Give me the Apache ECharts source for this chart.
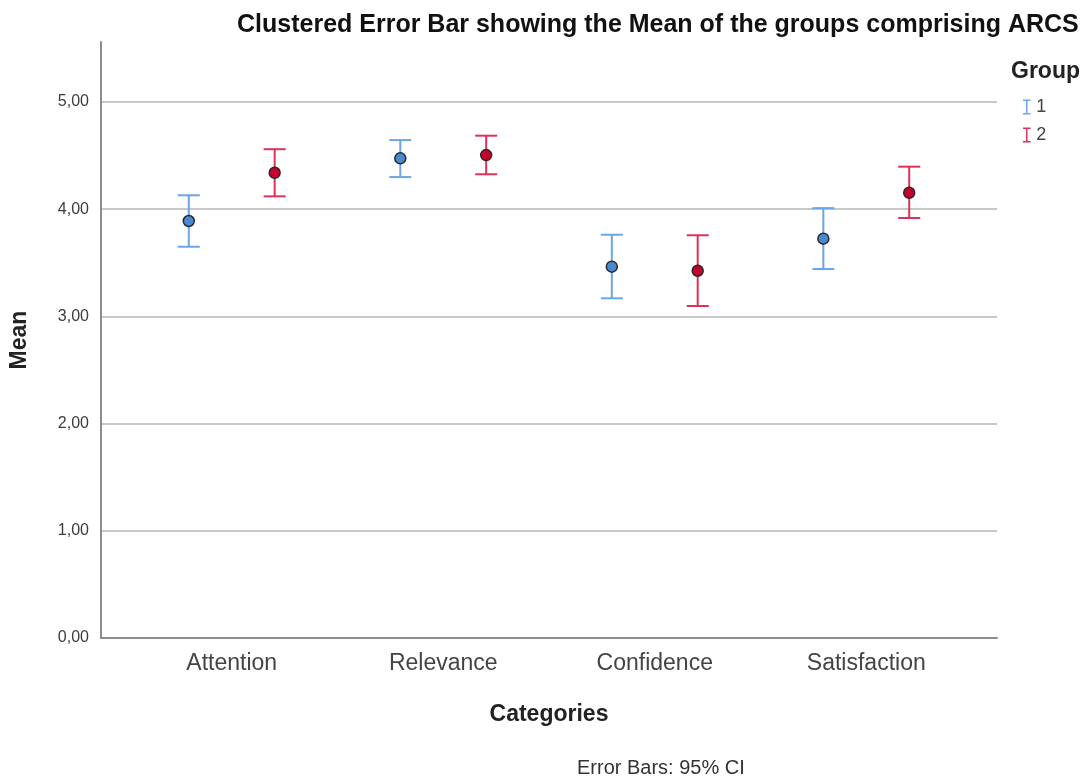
<!DOCTYPE html>
<html>
<head>
<meta charset="utf-8">
<script src="https://cdn.jsdelivr.net/npm/echarts@6/dist/echarts.min.js"></script>
<style>html,body{margin:0;padding:0;background:#fff}#chart{width:1092px;height:779px}</style>
</head>
<body>
<div id="chart"></div>
<script>
const categories = ['Attention', 'Relevance', 'Confidence', 'Satisfaction'];
const groupNames = ['1', '2'];
const group1Mean  = [3.89, 4.475, 3.464, 3.725];
const group1Lower = [3.65, 4.30, 3.169, 3.442];
const group1Upper = [4.13, 4.645, 3.762, 4.01];
const group2Mean  = [4.34, 4.505, 3.426, 4.154];
const group2Lower = [4.12, 4.326, 3.097, 3.918];
const group2Upper = [4.56, 4.686, 3.757, 4.397];
const yTicks = [0, 1, 2, 3, 4, 5];

const FONT = 'Liberation Sans, Arial, sans-serif';
const chart = echarts.init(document.getElementById('chart'));

function buildData(mean, lower, upper) {
  return categories.map((c, i) => [i, lower[i], upper[i], mean[i]]);
}

function makeSeries(name, mean, lower, upper, offset, barColor, dotColor) {
  return {
    type: 'custom',
    name: name,
    z: 5,
    data: buildData(mean, lower, upper),
    encode: { x: 0, y: [1, 2, 3] },
    itemStyle: { color: barColor },
    renderItem: function (params, api) {
      const x = api.value(0) + offset;
      const lo = api.coord([x, api.value(1)]);
      const hi = api.coord([x, api.value(2)]);
      const m = api.coord([x, api.value(3)]);
      const cw = 11;
      const ls = { stroke: barColor, lineWidth: 2 };
      return {
        type: 'group',
        children: [
          { type: 'line', shape: { x1: lo[0], y1: lo[1], x2: hi[0], y2: hi[1] }, style: ls },
          { type: 'line', shape: { x1: hi[0] - cw, y1: hi[1], x2: hi[0] + cw, y2: hi[1] }, style: ls },
          { type: 'line', shape: { x1: lo[0] - cw, y1: lo[1], x2: lo[0] + cw, y2: lo[1] }, style: ls },
          { type: 'circle', shape: { cx: m[0], cy: m[1], r: 5.5 }, style: { fill: dotColor, stroke: '#2a2a2a', lineWidth: 1.5 } }
        ]
      };
    }
  };
}

const gridLines = {
  type: 'line',
  data: [],
  silent: true,
  z: 0,
  markLine: {
    silent: true,
    symbol: 'none',
    z: 0,
    label: { show: false },
    lineStyle: { color: '#c8c8c8', width: 2, type: 'solid' },
    data: yTicks.filter(v => v > 0).map(v => ({ yAxis: v }))
  }
};

const option = {
  animation: false,
  backgroundColor: '#ffffff',
  title: [
    { text: 'Clustered Error Bar showing the Mean of the groups comprising ARCS', left: 232, top: 8,
      textStyle: { fontFamily: FONT, fontSize: 25, fontWeight: 'bold', color: '#111' } },
    { text: 'Group', left: 1006, top: 55, textStyle: { fontFamily: FONT, fontSize: 23, fontWeight: 'bold', color: '#222' } },
    { text: 'Error Bars: 95% CI', left: 572, top: 753, textStyle: { fontFamily: FONT, fontSize: 20, fontWeight: 'normal', color: '#333' } }
  ],
  legend: {
    orient: 'vertical',
    left: 1018, top: 93,
    itemWidth: 9, itemHeight: 15, itemGap: 10,
    icon: 'path://M0,0H10V2H6V18H10V20H0V18H4V2H0Z',
    data: groupNames,
    textStyle: { fontFamily: FONT, fontSize: 18, color: '#444' }
  },
  grid: { left: 99, right: 95, top: 42, bottom: 141 },
  xAxis: {
    type: 'value',
    min: -0.618, max: 3.618,
    name: 'Categories', nameLocation: 'middle', nameGap: 65,
    nameTextStyle: { fontFamily: FONT, fontSize: 23, fontWeight: 'bold', color: '#222' },
    axisLine: { show: true, onZero: false, lineStyle: { color: '#8c8c8c', width: 2 } },
    axisTick: { show: false },
    splitLine: { show: false },
    axisLabel: {
      margin: 14,
      fontFamily: FONT, fontSize: 23, color: '#444',
      formatter: function (v) {
        const r = Math.round(v);
        return Math.abs(v - r) < 1e-6 && r >= 0 && r < categories.length ? categories[r] : '';
      }
    }
  },
  yAxis: {
    type: 'value',
    min: 0, max: 5.56, interval: 1,
    name: 'Mean', nameLocation: 'middle', nameGap: 70, nameRotate: 90,
    nameTextStyle: { fontFamily: FONT, fontSize: 23, fontWeight: 'bold', color: '#222' },
    axisLine: { show: true, onZero: false, lineStyle: { color: '#8c8c8c', width: 2 } },
    axisTick: { show: false },
    splitLine: { show: false },
    axisLabel: {
      margin: 12,
      fontFamily: FONT, fontSize: 16, color: '#3c3c3c',
      formatter: function (v) {
        return yTicks.indexOf(v) >= 0 ? v.toFixed(2).replace('.', ',') : '';
      }
    }
  },
  series: [
    gridLines,
    makeSeries(groupNames[0], group1Mean, group1Lower, group1Upper, -0.203, '#6aa5ea', '#4a88d0'),
    makeSeries(groupNames[1], group2Mean, group2Lower, group2Upper, 0.203, '#dd3158', '#c8002c')
  ]
};
chart.setOption(option);
</script>
</body>
</html>
